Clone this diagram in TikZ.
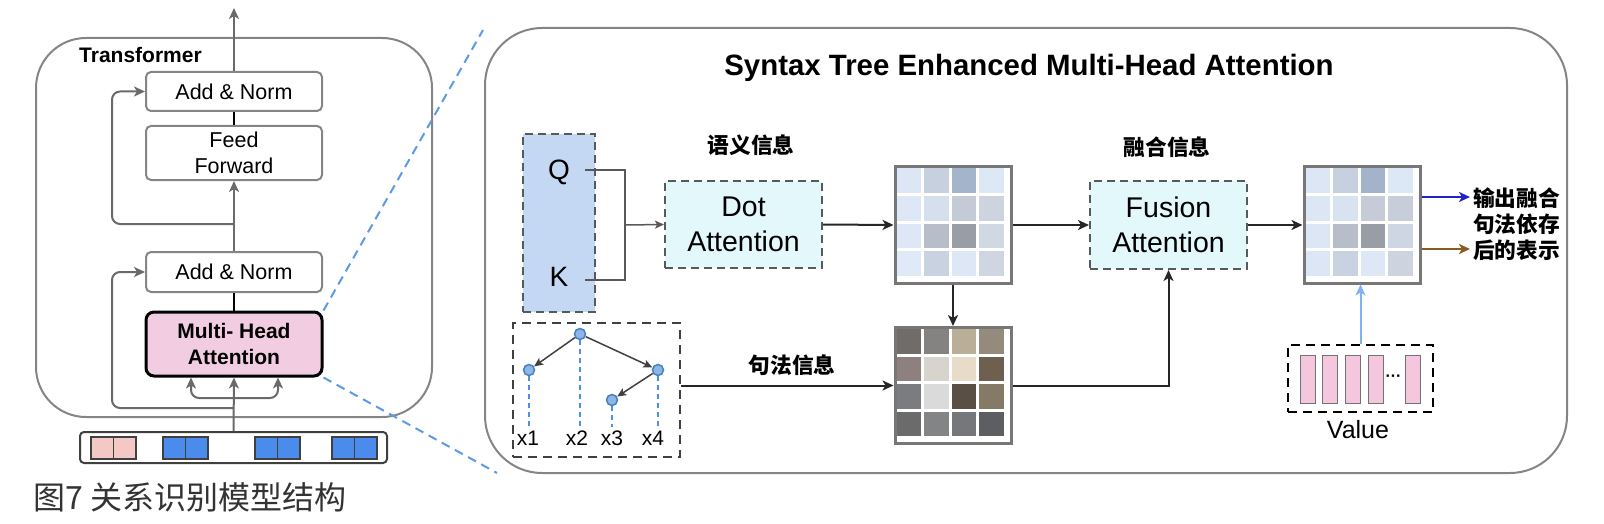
\documentclass[tikz,border=0pt]{standalone}
\usepackage{fontspec}
\setmainfont{Liberation Sans}
\newfontfamily\cjk{Noto Sans CJK SC}
\usetikzlibrary{arrows.meta,calc}
\definecolor{boxgray}{HTML}{858585}
\definecolor{arrgray}{HTML}{6A6A6A}
\definecolor{dashgray}{HTML}{555A5A}
\definecolor{mhapink}{HTML}{F2CDE2}
\definecolor{tokpink}{HTML}{F4C9C5}
\definecolor{tokblue}{HTML}{4A8BEB}
\definecolor{zoomblue}{HTML}{5B9BE6}
\definecolor{qkfill}{HTML}{C4D8F4}
\definecolor{cyanfill}{HTML}{E2F8FA}
\definecolor{matgray}{HTML}{777777}
\definecolor{treefill}{HTML}{8DB6E8}
\definecolor{treedraw}{HTML}{4A7FC0}
\definecolor{treedash}{HTML}{4D90E0}
\definecolor{outblue}{HTML}{2222C8}
\definecolor{outbrown}{HTML}{8B5A1E}
\definecolor{valblue}{HTML}{7EB2F2}
\definecolor{barpink}{HTML}{F4C7DF}
\definecolor{captgray}{HTML}{333333}
\newcommand\matcells[2]{%
  \foreach \h [count=\i from 0] in {#2} {%
    \pgfmathtruncatemacro\rr{\i/4}%
    \pgfmathtruncatemacro\cc{mod(\i,4)}%
    \definecolor{tmpc}{HTML}{\h}%
    \fill[tmpc] ($(#1.north west)+(3+\cc*27.5,3+\rr*27.5)$) rectangle ++(24.5,24.5);
  }}
\begin{document}
\begin{tikzpicture}[x=1pt,y=-1pt,
  box/.style={draw=boxgray, line width=2pt, rounded corners=5pt, fill=white, inner sep=0pt, align=center, font=\fontsize{21.5}{26}\selectfont},
  dbox/.style={draw=dashgray, line width=2pt, dash pattern=on 8pt off 5pt, fill=cyanfill, inner sep=0pt, align=center, font=\fontsize{28.5}{35}\selectfont},
  garrow/.style={draw=arrgray, line width=2pt, -{Stealth[length=11pt,width=10pt,inset=3pt]}},
  gline/.style={draw=black, line width=2pt},
  barrow/.style={draw=black!85, line width=2pt, -{Stealth[length=11pt,width=10pt,inset=3pt]}},
  brk/.style={draw=black!65, line width=1.5pt},
  mat/.style={draw=matgray, line width=3pt, fill=white, minimum size=116pt, inner sep=0pt},
  cjklab/.style={font={\cjk\bfseries\fontsize{21.7}{26}\selectfont}, inner sep=0pt, align=center},
  tnode/.style={circle, fill=treefill, draw=treedraw, line width=1.5pt, minimum size=11pt, inner sep=0pt},
  tarrow/.style={draw=black!75, line width=1.5pt, -{Stealth[length=9pt,width=8pt,inset=2pt]}},
  tdash/.style={draw=treedash, line width=1.5pt, dash pattern=on 5pt off 4pt},
  zoomline/.style={draw=zoomblue, line width=2pt, dash pattern=on 9pt off 6pt},
  xlab/.style={font=\fontsize{21}{24}\selectfont, inner sep=0pt},
  bar/.style={fill=barpink, draw=black!55, line width=1pt}
]
\useasboundingbox (0,0) rectangle (1604,524);

% ---------------- left: Transformer ----------------
\node[draw=boxgray, line width=2pt, rounded corners=50pt, minimum width=396pt, minimum height=379pt, inner sep=0pt] (tbox) at (234,227.5) {};
\node[anchor=west, inner sep=0pt, font=\bfseries\fontsize{21}{24}\selectfont] (tlab) at (79,55) {Transformer};

\node[box, minimum width=176pt, minimum height=39pt] (an2) at (234,91.5) {Add \& Norm};
\node[box, minimum width=176pt, minimum height=54pt] (ff) at (234,153) {Feed\\Forward};
\node[box, minimum width=176pt, minimum height=40pt] (an1) at (234,272) {Add \& Norm};
\node[box, draw=black, line width=3pt, rounded corners=8pt, fill=mhapink, minimum width=176pt, minimum height=64pt, font=\bfseries\fontsize{21}{26}\selectfont] (mha) at (234,344) {Multi- Head\\Attention};

\node[draw=black!75, line width=2pt, rounded corners=4pt, minimum width=307pt, minimum height=31pt, inner sep=0pt] (tok) at (233.5,447.5) {};
\foreach \xa/\col in {91/tokpink,163/tokblue,255/tokblue,332/tokblue} {
  \draw[fill=\col, draw=black!75, line width=1.5pt] (\xa,437) rectangle ++(22.5,22);
  \draw[fill=\col, draw=black!75, line width=1.5pt] (\xa+22.5,437) rectangle ++(22.5,22);
}

\coordinate (sp) at (234,398);
\coordinate (r1) at (234,408);
\coordinate (r2) at (234,224);
\coordinate (topout) at (234,8);
\draw[garrow] (tok.north) -- (mha.south);
\draw[garrow, rounded corners=8pt] (sp) -| ($(mha.south)+(-43,0)$);
\draw[garrow, rounded corners=8pt] (sp) -| ($(mha.south)+(44,0)$);
\draw[garrow, rounded corners=8pt] (r1) -| ($(an1.west)+(-33,0)$) -- (an1.west);
\draw[gline] (mha.north) -- (an1.south);
\draw[garrow] (an1.north) -- (ff.south);
\draw[garrow, rounded corners=8pt] (r2) -| ($(an2.west)+(-33,0)$) -- (an2.west);
\draw[gline] (ff.north) -- (an2.south);
\draw[garrow] (an2.north) -- (topout);

\node[anchor=west, inner sep=0pt, text=captgray, font={\cjk\fontsize{32}{35}\selectfont}] (cap) at (33,497) {图7 关系识别模型结构};

% zoom lines
\coordinate (zt) at (483,30);
\coordinate (zb) at (497,473);
\draw[zoomline] (mha.north east) -- (zt);
\draw[zoomline] (mha.south east) -- (zb);

% ---------------- right panel ----------------
\node[draw=boxgray, line width=2pt, rounded corners=57pt, minimum width=1082pt, minimum height=445pt, inner sep=0pt] (rbox) at (1026,250.5) {};
\node[inner sep=0pt, font=\bfseries\fontsize{29.4}{32}\selectfont] (title) at (1029,68) {Syntax Tree Enhanced Multi-Head Attention};

\node[draw=dashgray, line width=2pt, dash pattern=on 8pt off 5pt, fill=qkfill, minimum width=72pt, minimum height=178pt, inner sep=0pt] (qk) at (559,223) {};
\node[inner sep=0pt, font=\fontsize{28}{30}\selectfont] (Q) at (559,172) {Q};
\node[inner sep=0pt, font=\fontsize{28}{30}\selectfont] (K) at (559,277) {K};
\coordinate (qo) at (585,170);
\coordinate (ko) at (585,280);
\coordinate (bj) at (625,225);
\draw[brk] (qo) -- (625,170) -- (625,280) -- (ko);

\node[dbox, minimum width=157pt, minimum height=87pt] (dot) at (743.5,224.5) {Dot\\Attention};
\draw[brk, -{Stealth[length=9pt,width=8pt,inset=2pt]}] (bj) -- (dot.west);
\node[cjklab] (lsem) at (751,145) {语义信息};

\node[mat] (m1) at (953,225) {};
\matcells{m1}{DCE6F5,C7D0DE,A3B5CB,DDE8F7,DDE7F6,D6DFEE,C4CAD6,CDD4DF,DDE7F6,B7BEC9,999DA6,D0D8E4,DFE9F7,C9D2E0,DDE7F6,D0D6E1}
\node[mat] (m2) at (953,385.5) {};
\matcells{m2}{6F6C6A,858381,BBAE98,958B7D,8F8080,D6D4CC,E8DCC8,6E5F4E,7A7C7F,DADADA,5A4F45,857A66,6B6B6B,838486,75777A,5C5E62}

\node[dbox, minimum width=157pt, minimum height=88pt] (fus) at (1168.5,225) {Fusion\\Attention};
\node[cjklab] (lfus) at (1167,147) {融合信息};

\node[mat] (m3) at (1362,225) {};
\matcells{m3}{DCE6F5,C7D0DE,A3B3C9,DDE8F7,DCE6F5,D9E2F1,C5CCD7,C7CED9,DCE6F5,B7BEC9,999DA6,CDD6E2,DCE6F5,C9D2E0,DDE7F6,CDD4DF}

% tree
\node[draw=black!75, line width=2.5pt, dash pattern=on 9pt off 6pt, minimum width=167pt, minimum height=134pt, inner sep=0pt] (tree) at (596.5,390) {};
\node[tnode] (t0) at (580,334) {};
\node[tnode] (t1) at (529,370) {};
\node[tnode] (t2) at (658,370) {};
\node[tnode] (t3) at (612,400) {};
\node[xlab] (x1) at (528,438) {x1};
\node[xlab] (x2) at (577,438) {x2};
\node[xlab] (x3) at (612,438) {x3};
\node[xlab] (x4) at (653,438) {x4};
\draw[tarrow] (t0) -- (t1);
\draw[tarrow] (t0) -- (t2);
\draw[tarrow] (t2) -- (t3);
\draw[tdash] (t1.south) -- ($(t1 |- x1.north)+(0,-3)$);
\draw[tdash] (t0.south) -- ($(t0 |- x2.north)+(0,-3)$);
\draw[tdash] (t3.south) -- ($(t3 |- x3.north)+(0,-3)$);
\draw[tdash] (t2.south) -- ($(t2 |- x4.north)+(0,-3)$);

\node[cjklab] (lsyn) at (792,365) {句法信息};

% main connectors
\draw[barrow] (dot.east) -- (m1.west);
\draw[barrow] (m1.east) -- (fus.west);
\draw[barrow] (m1.south) -- (m2.north);
\draw[barrow] (tree.east |- m2.west) -- (m2.west);
\draw[barrow] (m2.east) -| (fus.south);
\draw[barrow] (fus.east) -- (m3.west);

% output
\node[cjklab, anchor=west, inner sep=3pt] (out) at (1470,224) {输出融合\\句法依存\\后的表示};
\draw[draw=outblue, line width=2pt, -{Stealth[length=11pt,width=10pt,inset=3pt]}] ([yshift=28pt]m3.east) -- ([yshift=28pt]m3.east -| out.west);
\draw[draw=outbrown, line width=2pt, -{Stealth[length=11pt,width=10pt,inset=3pt]}] ([yshift=-24pt]m3.east) -- ([yshift=-24pt]m3.east -| out.west);

% value
\node[draw=black, line width=2.5pt, dash pattern=on 9pt off 6pt, minimum width=145pt, minimum height=67pt, inner sep=0pt] (val) at (1360.5,378.5) {};
\foreach \xb in {1300,1322,1345,1368,1405} {
  \draw[bar] (\xb,355) rectangle ++(15,48);
}
\node[inner sep=0pt, font=\bfseries\fontsize{16}{16}\selectfont] (dots) at (1393.5,378) {···};
\node[inner sep=0pt, font=\fontsize{25}{28}\selectfont] (vlab) at (1358,430) {Value};
\draw[draw=valblue, line width=2pt, -{Stealth[length=11pt,width=10pt,inset=3pt]}] (val.north) -- (val.north |- m3.south);
\end{tikzpicture}
\end{document}
